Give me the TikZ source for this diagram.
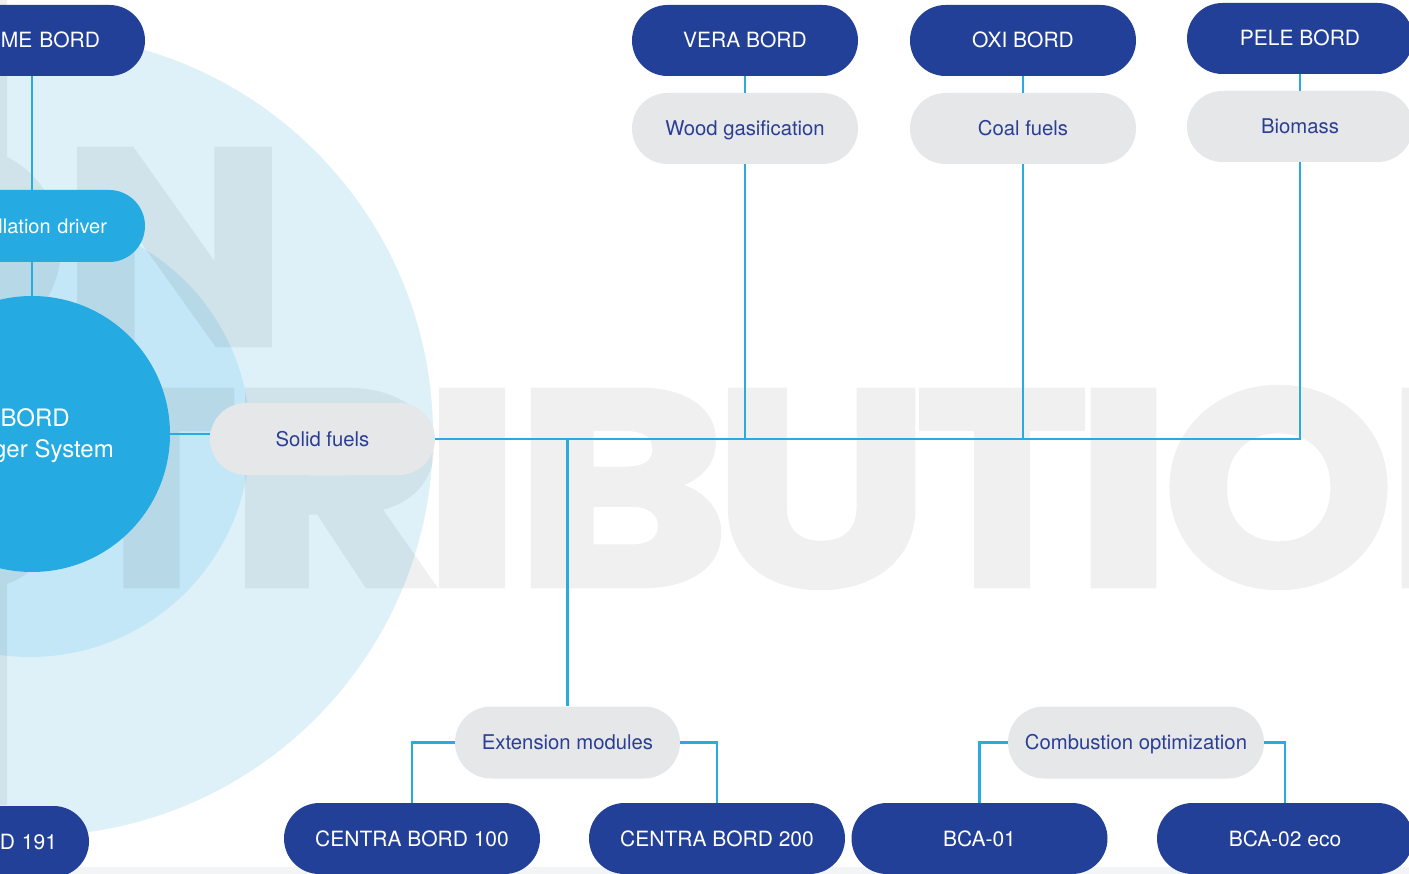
\documentclass[tikz,border=0pt]{standalone}
\usepackage{fontspec}
\setmainfont{TeX Gyre Heros}
\newfontfamily\wmfont{Poppins}[BoldFeatures={FakeBold=2}]
\usetikzlibrary{shapes.misc}
\definecolor{dkblue}{RGB}{35,64,153}
\definecolor{cyanc}{RGB}{37,170,225}
\definecolor{pillgray}{RGB}{230,231,233}
\definecolor{txtblue}{RGB}{42,63,148}
\definecolor{lineblue}{RGB}{41,171,226}
\definecolor{bigc}{RGB}{222,241,249}
\definecolor{medc}{RGB}{195,231,246}
\definecolor{bandgray}{RGB}{243,244,246}
\newcommand{\wmx}[2]{\scalebox{#1}[1]{#2}}
\tikzset{
  pillbase/.style={rounded rectangle, minimum width=226pt, minimum height=71pt, inner sep=0pt, text depth=0pt},
  darkpill/.style={pillbase, fill=dkblue, text=white, font=\fontsize{21}{25}\selectfont, text height=15pt},
  cyanpill/.style={pillbase, minimum height=72pt, fill=cyanc, text=white, font=\fontsize{20}{24}\selectfont, text height=14.4pt},
  graypill/.style={pillbase, fill=pillgray, text=txtblue, font=\fontsize{20.3}{24}\selectfont, text height=14.6pt},
  coretext/.style={inner sep=0pt, text=white, font=\fontsize{24}{29}\selectfont},
  conn/.style={draw=lineblue, line width=2.5pt},
  wm/.style={text=black, inner sep=0pt, anchor=base, font=\wmfont\bfseries\fontsize{278}{278}\selectfont},
  wmbar/.style={fill=black}
}
\begin{document}
\begin{tikzpicture}[x=1pt,y=-1pt]
\useasboundingbox (0,0) rectangle (1409,874);
\clip (0,0) rectangle (1409,874);
\fill[white] (0,0) rectangle (1409,874);
\fill[bandgray] (0,867) rectangle (1409,874);
\fill[bigc] (32,435) circle[radius=401];
\fill[medc] (30,437) circle[radius=220];
% watermark
\begin{scope}[transparency group, opacity=0.058]
\fill[wmbar] (-60,0) rectangle (7,805);
\node[wm] (wmO1) at (-48,344.5) {\wmx{1.06}{O}};
\node[wm] (wmN1) at (174.5,344.5) {\wmx{1.08}{N}};
\node[wm] (wmS) at (-35,585.5) {\wmx{1.13}{S}};
\node[wm] (wmT1) at (151.5,585.5) {\wmx{1.06}{T}};
\node[wm] (wmR) at (336.5,585.5) {\wmx{1.2}{R}};
\node[wm] (wmI1) at (472,585.5) {\wmx{1.24}{I}};
\node[wm] (wmB) at (622,585.5) {\wmx{1.18}{B}};
\node[wm] (wmU) at (821.5,585.5) {\wmx{1.11}{U}};
\node[wm] (wmT2) at (1002,585.5) {\wmx{1.06}{T}};
\node[wm] (wmI2) at (1123.5,585.5) {\wmx{1.24}{I}};
\node[wm] (wmO2) at (1278.5,585.5) {\wmx{1.06}{O}};
\node[wm] (wmN2) at (1499,585.5) {\wmx{1.08}{N}};
\end{scope}
% nodes
\node[darkpill, text width=136pt, align=right] (home) at (32,40.5) {ME BORD};
\node[cyanpill, text width=150pt, align=right] (inst) at (32,226) {llation driver};
\node[circle, fill=cyanc, minimum size=276pt, inner sep=0pt] (core) at (32,434) {};
\node[coretext, anchor=base east] (coreA) at (70,427) {BORD};
\node[coretext, anchor=base east] (coreB) at (114,458) {ger System};
\node[graypill, minimum width=225pt, minimum height=72pt] (solid) at (322.5,439) {Solid fuels};
\node[darkpill] (vera) at (745,40.5) {VERA BORD};
\node[graypill] (wood) at (745,128.5) {Wood gasification};
\node[darkpill] (oxi) at (1023,40.5) {OXI BORD};
\node[graypill] (coal) at (1023,128.5) {Coal fuels};
\node[darkpill] (pele) at (1300,38.5) {PELE BORD};
\node[graypill] (bio) at (1300,126.5) {Biomass};
\node[graypill, minimum width=225pt, minimum height=72pt] (ext) at (567.5,742.5) {Extension modules};
\node[graypill, minimum width=256pt, minimum height=72pt] (comb) at (1136,742.5) {Combustion optimization};
\node[darkpill, minimum width=256pt] (cb100) at (412,838.5) {CENTRA BORD 100};
\node[darkpill, minimum width=256pt] (cb200) at (717,838.5) {CENTRA BORD 200};
\node[darkpill, minimum width=256pt] (bca1) at (979.5,838.5) {BCA-01};
\node[darkpill, minimum width=256pt] (bca2) at (1285,838.5) {BCA-02 eco};
\node[darkpill, minimum width=256pt, text width=192pt, align=right] (d191) at (-39,841.5) {D 191};
% connectors
\draw[conn] (home.south) -- (inst.north);
\draw[conn] (inst.south) -- (core.north);
\draw[conn] (core.east) -- (core.east -| solid.west);
\draw[conn] (solid.east) -| (bio.south);
\draw[conn] (vera.south) -- (wood.north);
\draw[conn] (oxi.south) -- (coal.north);
\draw[conn] (pele.south) -- (bio.north);
\draw[conn] (wood.south) -- (wood.south |- solid.east);
\draw[conn] (coal.south) -- (coal.south |- solid.east);
\draw[conn] (ext.north |- solid.east) -- (ext.north);
\draw[conn] (ext.west) -| (cb100.north);
\draw[conn] (ext.east) -| (cb200.north);
\draw[conn] (comb.west) -| (bca1.north);
\draw[conn] (comb.east) -| (bca2.north);
\end{tikzpicture}
\end{document}
